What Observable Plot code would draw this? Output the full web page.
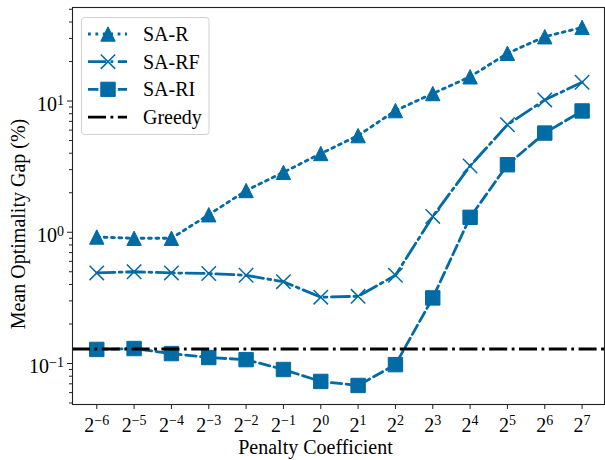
<!DOCTYPE html>
<html><head><meta charset="utf-8">
<script src="https://cdn.jsdelivr.net/npm/d3@7"></script>
<script src="https://cdn.jsdelivr.net/npm/@observablehq/plot@0.6"></script>
<style>
body{margin:0;background:#fff;}
#chart{width:605px;height:460px;}
</style></head><body><div id="chart"></div>
<script>
// ---- data ----
const exponents = [-6, -5, -4, -3, -2, -1, 0, 1, 2, 3, 4, 5, 6, 7];
const xTickLabels = ["2^−6","2^−5","2^−4","2^−3","2^−2","2^−1","2^0","2^1","2^2","2^3","2^4","2^5","2^6","2^7"];
const saR  = [0.92, 0.90, 0.90, 1.36, 2.08, 2.86, 3.98, 5.45, 8.45, 11.4, 15.3, 23.1, 30.9, 36.4];
const saRF = [0.49, 0.50, 0.49, 0.485, 0.47, 0.42, 0.32, 0.325, 0.47, 1.32, 3.2, 6.6, 10.2, 13.9];
const saRI = [0.128, 0.13, 0.119, 0.111, 0.107, 0.090, 0.073, 0.068, 0.098, 0.316, 1.3, 3.27, 5.7, 8.4];
const greedy = 0.129;
const seriesNames = ["SA-R", "SA-RF", "SA-RI", "Greedy"];
const yTickValues = [0.1, 1, 10];
const yTickLabels = ["10^−1", "10^0", "10^1"];
const yMinorTicks = [0.05,0.06,0.07,0.08,0.09,0.2,0.3,0.4,0.5,0.6,0.7,0.8,0.9,2,3,4,5,6,7,8,9,20,30,40,50];
const xLabel = "Penalty Coefficient";
const yLabel = "Mean Optimality Gap (%)";

// ---- styles ----
const BLUE = "#006BA4";
const LW = 2.8;
const M = 14.4; // marker size px
const FS = 20;
const FONT = "'Liberation Serif','Times New Roman',serif";
const triSym = {draw(ctx, size){const s=Math.sqrt(size); ctx.moveTo(0,-s/2); ctx.lineTo(s/2,s/2); ctx.lineTo(-s/2,s/2); ctx.closePath();}};
const sqSym = {draw(ctx, size){const s=Math.sqrt(size); ctx.rect(-s/2,-s/2,s,s);}};
const xSym = {draw(ctx, size){const h=Math.sqrt(size)/2; ctx.moveTo(-h,-h); ctx.lineTo(h,h); ctx.moveTo(h,-h); ctx.lineTo(-h,h);}};
const styles = {
  "SA-R":  {dash: "2.8,4.6", sym: triSym, fill: BLUE, sw: 1},
  "SA-RF": {dash: "18,4.5,2.8,4.5", sym: xSym, fill: "none", sw: 1.5},
  "SA-RI": {dash: "10.4,4.5", sym: sqSym, fill: BLUE, sw: 1},
  "Greedy": {dash: "18,4.5,2.8,4.5", color: "black"}
};
const R = M / Math.sqrt(Math.PI);

const toRows = vals => exponents.map((e, i) => ({x: e, y: vals[i]}));
const seriesMarks = (name, vals) => {
  const st = styles[name];
  const rows = toRows(vals);
  return [
    Plot.line(rows, {x: "x", y: "y", stroke: BLUE, strokeWidth: LW, strokeDasharray: st.dash}),
    Plot.dot(rows, {x: "x", y: "y", symbol: st.sym, r: R, fill: st.fill, stroke: BLUE, strokeWidth: st.sw})
  ];
};

const plot = Plot.plot({
  width: 605, height: 460,
  marginLeft: 72, marginRight: 1, marginTop: 7, marginBottom: 56,
  style: {fontFamily: FONT, fontSize: FS + "px", color: "#000", background: "white", overflow: "visible"},
  x: {type: "linear", domain: [-6.65, 7.6]},
  y: {type: "log", domain: [0.0487, 51.6]},
  marks: [
    ...seriesMarks("SA-R", saR),
    ...seriesMarks("SA-RF", saRF),
    ...seriesMarks("SA-RI", saRI),
    Plot.ruleY([greedy], {stroke: "black", strokeWidth: LW, strokeDasharray: styles.Greedy.dash}),
    Plot.frame({stroke: "#222", strokeWidth: 1.1}),
    Plot.axisX({ticks: exponents, tickFormat: d => xTickLabels[exponents.indexOf(d)], tickSize: 5, tickPadding: 8, label: null, stroke: "#222", fontSize: FS}),
    Plot.axisY({ticks: yMinorTicks, tickFormat: () => "", tickSize: 3, label: null, stroke: "#222"}),
    Plot.axisY({ticks: yTickValues, tickFormat: d => yTickLabels[yTickValues.indexOf(d)], tickSize: 5, tickPadding: 3.5, label: null, stroke: "#222", fontSize: FS}),
    Plot.text([xLabel], {frameAnchor: "bottom", lineAnchor: "middle", textAnchor: "middle", dy: 43, dx: -23, fontSize: FS, fill: "#000"}),
    Plot.text([yLabel], {frameAnchor: "left", lineAnchor: "middle", textAnchor: "middle", rotate: -90, dx: -54, dy: 18, fontSize: FS, fill: "#000"})
  ]
});
document.getElementById("chart").appendChild(plot);

// superscripts in tick labels
const NS = "http://www.w3.org/2000/svg";
function supify(t, yShift) {
  const lab = t.textContent;
  if (!lab.includes("^")) return;
  const [b, e] = lab.split("^");
  t.textContent = "";
  const t1 = document.createElementNS(NS, "tspan"); t1.textContent = b;
  const t2 = document.createElementNS(NS, "tspan"); t2.textContent = e;
  t2.setAttribute("dy", "-0.45em"); t2.setAttribute("font-size", "14px");
  t.appendChild(t1); t.appendChild(t2);
  if (yShift != null) t.setAttribute("y", yShift);
}
plot.querySelectorAll('g[aria-label="x-axis tick label"] text').forEach(t => supify(t, null));
plot.querySelectorAll('g[aria-label="y-axis tick label"] text').forEach(t => supify(t, "0.5em"));

// legend (inside plot area, upper left)
const svg = d3.select(plot);
const lg = svg.append("g").attr("font-family", FONT).attr("font-size", FS).attr("text-anchor", "start");
lg.append("rect").attr("x", 81.5).attr("y", 17.5).attr("width", 127.5).attr("height", 117)
  .attr("rx", 3).attr("fill", "white").attr("fill-opacity", 0.85).attr("stroke", "#d0d0d0");
seriesNames.forEach((name, i) => {
  const cy = 34 + i * 27.7;
  const st = styles[name];
  const col = st.color || BLUE;
  lg.append("line").attr("x1", 88).attr("x2", 127).attr("y1", cy).attr("y2", cy)
    .attr("stroke", col).attr("stroke-width", LW).attr("stroke-dasharray", st.dash);
  if (st.sym) {
    lg.append("path").attr("d", d3.symbol(st.sym, M * M)()).attr("transform", `translate(108,${cy})`)
      .attr("fill", st.fill).attr("stroke", BLUE).attr("stroke-width", st.sw);
  }
  lg.append("text").attr("x", 143).attr("y", cy).attr("dy", "0.35em").attr("fill", "#000").text(name);
});
</script>
</body></html>
